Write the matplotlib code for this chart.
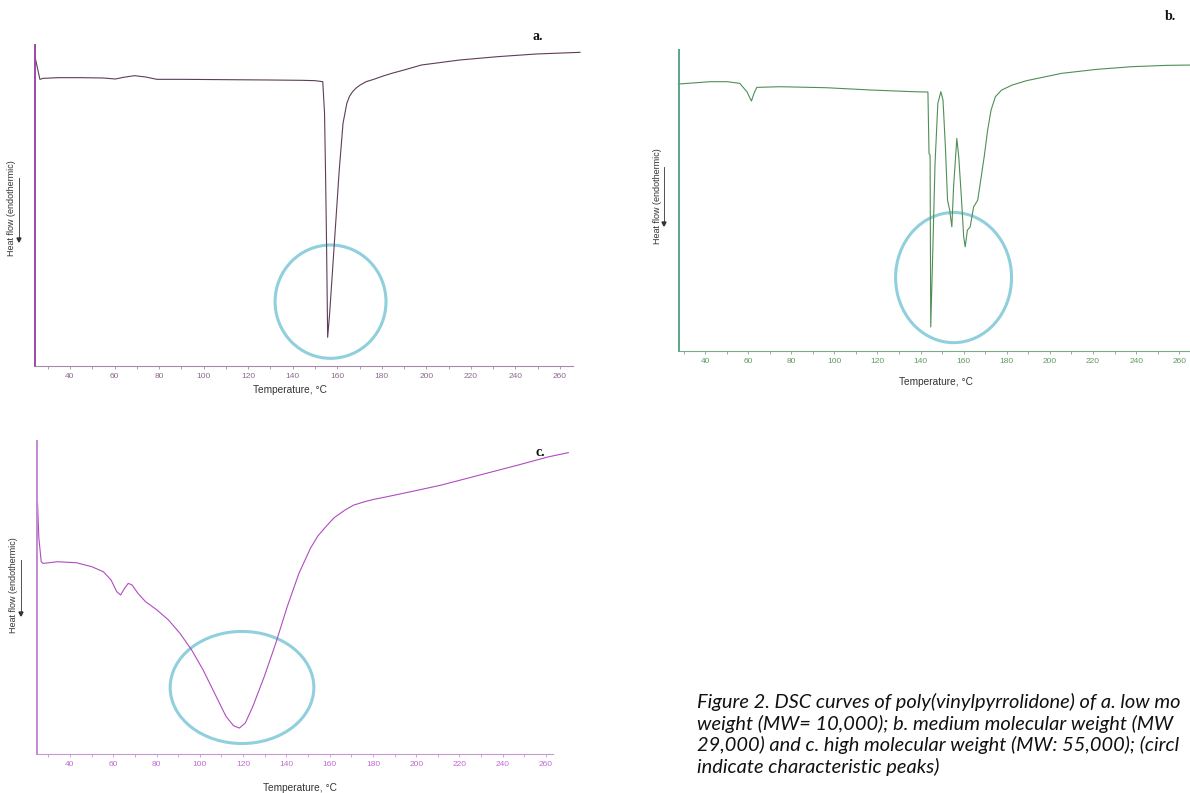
import matplotlib
matplotlib.use("Agg")
import matplotlib.pyplot as plt
from matplotlib.patches import Ellipse, FancyArrow
from matplotlib.ticker import MultipleLocator

W, H = 1190, 793

# a. low molecular weight PVP
temp_a = [24.4, 25.2, 26.5, 28, 35, 45, 55, 60.4, 64, 69, 74, 79, 90, 110, 130, 144.6,
          150, 153.5, 154.3, 154.8, 155.2, 155.7, 156.6, 158.7, 160.9, 162.6, 164.3,
          165.5, 166.9, 168.5, 170.3, 173.0, 176.4, 180.6, 185.0, 190, 197.8, 215, 232,
          249.3, 269]
flow_a = [92.5, 90.0, 86.0, 86.3, 86.5, 86.5, 86.4, 86.1, 86.6, 87.1, 86.7, 86.0, 86.0,
          85.9, 85.8, 85.7, 85.6, 85.3, 75.8, 55.8, 36.8, 8.6, 15.8, 36.8, 58.8, 72.8,
          78.8, 80.9, 82.3, 83.4, 84.3, 85.3, 86.0, 87.0, 87.9, 88.8, 90.3, 91.8, 92.8,
          93.6, 94.1]

# b. medium molecular weight PVP
temp_b = [27.6, 42.3, 50.4, 56.1, 59.4, 61.5, 62.7, 64.0, 74.9, 96.1, 117.3, 136.9, 143.4,
          143.9, 144.4, 144.7, 145.5, 146.7, 148.0, 149.4, 150.4, 151.5, 152.5, 153.5,
          154.5, 155.3, 156.8, 157.7, 158.9, 160.0, 160.7, 161.7, 163.0, 164.6, 166.5,
          167.9, 169.5, 171.1, 172.7, 174.7, 177.6, 182.5, 189.1, 205.4, 221.7, 238.0,
          254.3, 266.0]
flow_b = [80.0, 80.7, 80.7, 80.2, 77.7, 74.9, 77.2, 79.0, 79.2, 78.9, 78.2, 77.7, 77.6,
          59.2, 58.7, 7.2, 26.2, 56.2, 74.2, 77.7, 75.2, 61.2, 45.2, 42.2, 37.2, 49.2,
          63.7, 58.2, 46.2, 34.2, 31.2, 36.2, 37.2, 43.2, 45.2, 51.2, 58.2, 66.2, 72.2,
          76.2, 78.2, 79.7, 81.0, 83.2, 84.4, 85.2, 85.6, 85.7]

# c. high molecular weight PVP
temp_c = [24.8, 25.0, 25.6, 26.7, 27.6, 34.2, 43.0, 50.1, 55.4, 59.0, 61.6, 63.4, 65.2,
          66.9, 68.7, 71.4, 74.9, 80.2, 85.5, 90.8, 96.2, 101.5, 106.8, 112.1, 115.6,
          118.3, 121.0, 124.5, 129.8, 135.1, 140.4, 145.8, 151.1, 154.5, 158.2, 162.0,
          167.0, 171.0, 175.9, 180.0, 184.7, 197.1, 211.3, 229.0, 246.7, 260.9, 270.3]
flow_c = [72.0, 75.3, 65.0, 57.8, 57.3, 57.8, 57.5, 56.3, 54.8, 52.3, 48.8, 47.8, 49.8,
          51.3, 50.8, 48.3, 45.8, 43.3, 40.3, 36.3, 31.3, 25.3, 18.3, 11.3, 8.5, 7.8,
          9.3, 14.3, 23.3, 33.3, 44.3, 54.3, 61.8, 65.5, 68.3, 71.0, 73.3, 74.8, 75.8,
          76.5, 77.1, 78.8, 80.8, 83.8, 86.8, 89.3, 90.6]

# highlighted peaks: centre T, centre flow, width (degC), height (flow units)
circle_a = (157.0, 19.3, 49.8, 34.0)
circle_b = (155.3, 22.0, 53.8, 39.0)
circle_c = (119.5, 20.0, 66.4, 33.7)

# caption as visible in the reference (cut at the right edge there)
caption = ["Figure 2. DSC curves of poly(vinylpyrrolidone) of a. low mo",
           "weight (MW= 10,000); b. medium molecular weight (MW",
           "29,000) and c. high molecular weight (MW: 55,000); (circl",
           "indicate characteristic peaks)"]

fig = plt.figure(figsize=(W / 100, H / 100), dpi=100)


def box(left, top, right, bottom):
    return [left / W, 1 - bottom / H, (right - left) / W, (bottom - top) / H]


def fx(x):
    return x / W


def fy(y):
    return 1 - y / H


def panel(rect, temp, flow, xlim, ylim, xend, line_col, spine_col, axis_col, tick_col, circ):
    ax = fig.add_axes(rect)
    ax.patch.set_alpha(0)
    ax.plot(temp, flow, color=line_col, lw=0.8, clip_on=False)
    ax.set_xlim(*xlim)
    ax.set_ylim(*ylim)
    ax.spines['top'].set_visible(False)
    ax.spines['right'].set_visible(False)
    ax.spines['left'].set_color(spine_col)
    ax.spines['left'].set_linewidth(1.4)
    ax.spines['bottom'].set_color(axis_col)
    ax.spines['bottom'].set_linewidth(0.8)
    ax.spines['bottom'].set_bounds(xlim[0], xend)
    ax.set_yticks([])
    ax.xaxis.set_major_locator(MultipleLocator(20))
    ax.xaxis.set_minor_locator(MultipleLocator(10))
    ax.tick_params(axis='x', which='both', direction='out', length=2.2, width=0.6,
                   color=axis_col, labelsize=6, labelcolor=tick_col, pad=2.5)
    for lab in ax.get_xticklabels():
        lab.set_family('Liberation Sans')
    cx, cy, w, h = circ
    ax.add_patch(Ellipse((cx, cy), w, h, fill=False, ec='#8fd0dc', lw=2.2, clip_on=False))
    return ax


panel(box(35, 45, 580, 366), temp_a, flow_a, (24.3, 269.0), (0, 96.3), 265.8,
      '#5e3d58', '#9a4aa6', '#a48aa4', '#8a6a8a', circle_a)
panel(box(679, 50, 1190, 351), temp_b, flow_b, (27.9, 265.0), (0, 90.2), 265.0,
      '#4f8f55', '#5aa585', '#7aaa88', '#5f9a62', circle_b)
panel(box(37, 441, 567, 754), temp_c, flow_c, (24.75, 269.7), (0, 94.1), 263.2,
      '#b04cc0', '#c38ad0', '#c49ad0', '#c46ad4', circle_c)

# axis titles and heat-flow arrows
lab_kw = dict(family='Liberation Sans', color='#333333')
for x, y in [(290, 390), (936, 382), (300, 788)]:
    fig.text(fx(x), fy(y), "Temperature, °C", ha='center', va='center', fontsize=7.3, **lab_kw)
for x, y, a0, a1 in [(12, 208, 178, 242), (657, 196, 167, 226), (14, 585, 560, 616)]:
    fig.text(fx(x), fy(y), "Heat flow (endothermic)", rotation=90, ha='center',
             va='center', fontsize=6.5, **lab_kw)
    fig.add_artist(plt.Line2D([fx(x + 7)] * 2, [fy(a0), fy(a1 - 3)], color='#333333', lw=0.6))
    fig.add_artist(FancyArrow(fx(x + 7), fy(a1 - 4), 0, -4 / H, width=0.0003,
                              head_width=4 / W, head_length=4 / H,
                              length_includes_head=True, color='#333333',
                              transform=fig.transFigure))

# panel letters
for x, y, s in [(538, 36, "a."), (1170, 17, "b."), (540, 452, "c.")]:
    fig.text(fx(x), fy(y), s, ha='center', va='center', fontsize=10,
             family='Liberation Serif', weight='bold', color='#111111')

for i, line in enumerate(caption):
    fig.text(fx(697), fy(702 + i * 21.7), line, ha='left', va='center', fontsize=14.4,
             family='Lato', style='italic', color='#111111')

fig.savefig("out.png", dpi=100)
